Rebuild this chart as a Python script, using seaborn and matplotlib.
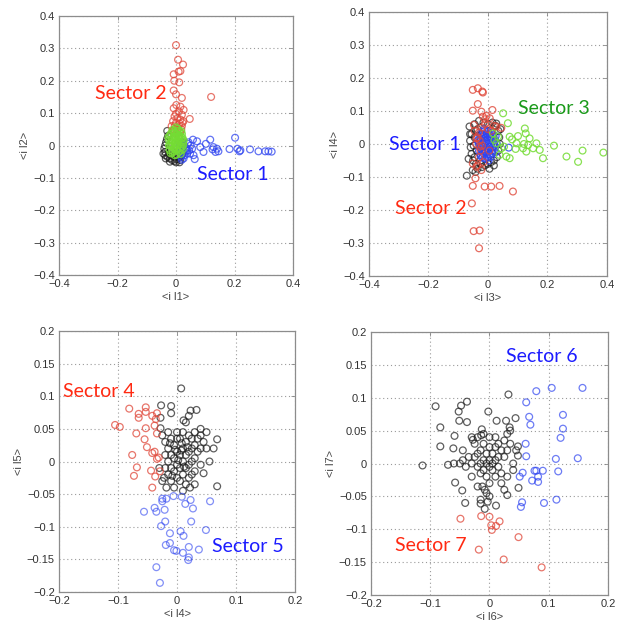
import matplotlib
matplotlib.use("Agg")
import matplotlib.pyplot as plt
import seaborn as sns
import pandas as pd
from matplotlib.ticker import FixedLocator, FuncFormatter

# ---------------- data ----------------
# Panel 1: <i l1> vs <i l2>
P1_BLACK = [(-0.037,-0.03),(-0.029,-0.035),(-0.021,-0.04),(-0.013,-0.045),(-0.005,-0.048),(0.003,-0.042),
            (0.011,-0.038),(0.019,-0.03),(-0.04,-0.01),(-0.037,0.0),(-0.034,0.01),(-0.031,0.02),(-0.037,-0.02),
            (-0.024,-0.025),(-0.015,-0.03),(-0.005,-0.035),(0.005,-0.028),(0.014,-0.02),(0.021,-0.01),(0.024,0.0),
            (0.019,0.01),(-0.027,0.03),(-0.021,-0.05),(0.0,-0.052),(0.008,-0.03),(-0.01,-0.02),(0.022,-0.025),
            (-0.043,-0.025),(0.014,-0.045),(-0.018,-0.012),(-0.03,0.045),(-0.035,-0.04),(0.012,-0.052)]
P1_BLUE = [(0.012,-0.005),(0.018,0.005),(0.022,-0.012),(0.028,0.0),(0.032,-0.02),(0.015,-0.02),(0.025,0.01),
           (0.035,-0.008),(0.04,0.005),(0.045,-0.015),(0.02,-0.028),(0.03,-0.03),(0.05,0.0),(0.01,0.01),
           (0.017,-0.035),(0.038,-0.025),(0.202,0.024),(0.117,0.018),(0.072,0.013),(0.058,0.018),(0.043,0.01),
           (0.128,-0.005),(0.14,-0.01),(0.183,-0.011),(0.21,-0.01),(0.217,-0.018),(0.253,-0.012),(0.282,-0.018),
           (0.305,-0.018),(0.316,-0.018),(0.327,-0.019),(0.094,-0.02),(0.064,-0.042),(0.02,-0.044),(0.083,-0.005),
           (0.038,-0.015),(0.055,-0.01),(0.102,0.005),(0.145,-0.018),(0.22,-0.015),(0.125,-0.012),(0.135,-0.02),
           (0.026,-0.04),(0.048,-0.025),(0.06,-0.03)]
P1_RED = [(0.0,0.31),(0.007,0.265),(0.024,0.25),(0.009,0.228),(0.015,0.23),(-0.008,0.22),(0.011,0.195),
          (-0.006,0.2),(-0.008,0.17),(0.0,0.158),(0.02,0.147),(0.12,0.15),(0.001,0.125),(0.015,0.12),
          (-0.008,0.115),(0.01,0.105),(0.0,0.098),(0.02,0.095),(0.047,0.082),(-0.005,0.09),(0.005,0.085),
          (0.015,0.08),(0.025,0.075),(-0.01,0.075),(0.0,0.07),(0.012,0.068),(0.02,0.06),(-0.004,0.062),
          (0.008,0.055),(0.018,0.05),(-0.006,0.05),(0.004,0.045),(0.014,0.04),(0.022,0.07),(0.0,0.035),(0.01,0.03),
          (-0.015,0.06),(0.026,0.11),(-0.012,0.045)]
P1_GREEN = [(-0.024,0.000),(-0.016,0.014),(-0.008,-0.010),(0.0,0.022),(0.008,0.004),(0.016,-0.016),(0.024,0.010),
            (-0.020,0.030),(-0.012,-0.022),(-0.004,0.040),(0.004,0.016),(0.012,0.032),(0.020,-0.004),
            (-0.022,-0.014),(-0.014,0.006),(-0.006,0.026),(0.002,-0.028),(0.010,0.046),(0.018,0.020),(0.025,0.002),
            (-0.018,0.036),(-0.010,-0.018),(-0.002,0.008),(0.006,0.052),(0.014,-0.008),(0.022,0.024),
            (-0.024,0.016),(-0.016,-0.002),(-0.008,0.044),(0.0,-0.014),(0.008,0.028),(0.016,0.010),(0.023,-0.012),
            (-0.020,0.004),(-0.012,0.048),(-0.004,-0.030),(0.004,0.000),(0.012,0.022),(0.020,0.036),
            (-0.014,0.020),(-0.006,-0.004),(0.002,0.034),(0.010,-0.020),(0.018,0.044),
            (-0.008,0.028),(0.0,0.056),(0.008,0.014),(-0.004,0.006),(0.004,-0.012),(0.012,0.030),
            (-0.026,0.026),(0.026,0.016),(-0.018,-0.024),(0.016,-0.026),(0.004,0.044)]

# Panel 2: <i l3> vs <i l4>
P2_BLACK = [(-0.071,-0.096),(-0.051,-0.079),(-0.062,0.053),(-0.055,0.03),(-0.06,0.01),(-0.058,-0.01),
            (-0.055,-0.03),(-0.05,-0.05),(-0.045,0.06),(-0.04,0.04),(-0.045,0.02),(-0.048,-0.005),(-0.045,-0.04),
            (-0.04,-0.06),(-0.035,-0.075),(-0.03,0.07),(-0.035,0.045),(-0.038,-0.02),(-0.025,-0.06),(-0.02,-0.07),
            (-0.01,-0.065),(0.0,-0.06),(0.01,-0.055),(0.02,-0.05),(0.03,-0.04),(0.035,-0.02),(0.04,0.0),
            (0.038,0.02),(0.035,0.04),(0.025,0.055),(0.015,0.065),(0.0,0.06),(-0.015,0.065),(0.028,0.062),
            (0.042,0.045),(-0.065,-0.045),(-0.06,0.03),(0.005,-0.075),(-0.042,-0.085),(0.02,-0.065)]
P2_BLUE = [(-0.03,-0.021),(-0.031,0.002),(-0.029,0.019),(-0.025,-0.034),(-0.026,-0.011),(-0.024,0.012),
           (-0.025,0.031),(-0.02,-0.041),(-0.021,-0.019),(-0.019,0.001),(-0.02,0.022),(-0.018,0.036),
           (-0.015,-0.029),(-0.016,-0.009),(-0.014,0.011),(-0.015,0.029),(-0.01,-0.044),(-0.011,-0.021),
           (-0.009,0.002),(-0.01,0.019),(-0.011,0.04),(-0.005,-0.036),(-0.004,-0.011),(-0.006,0.009),
           (-0.005,0.032),(0.0,-0.041),(0.001,-0.019),(0.0,0.001),(-0.001,0.021),(0.0,0.038),(0.005,-0.031),
           (0.006,-0.009),(0.004,0.011),(0.005,0.029),(0.01,-0.039),(0.011,-0.021),(0.009,0.001),(0.01,0.019),
           (0.011,0.034),(0.015,-0.029),(0.014,-0.011),(0.016,0.009),(0.015,0.027),(0.02,-0.019),(0.021,0.001),
           (0.019,0.021),(0.025,-0.009),(0.024,0.011),(0.03,0.0),(-0.028,-0.005),(-0.012,0.045),(0.002,-0.05),
           (0.07,-0.011),(-0.017,-0.036),(-0.034,0.01),(0.026,-0.025),(0.026,0.024),(-0.007,-0.025),(0.007,0.024)]
P2_RED = [(-0.051,0.164),(-0.034,0.169),(-0.019,0.159),(-0.017,0.156),(-0.034,0.121),(-0.051,0.101),
          (-0.022,0.098),(0.015,0.103),(-0.017,0.083),(0.006,0.078),(-0.047,0.058),(0.045,0.049),(0.028,0.053),
          (-0.039,0.017),(-0.028,-0.008),(-0.051,-0.059),(-0.039,-0.069),(-0.022,-0.079),(-0.042,-0.104),
          (-0.051,-0.127),(-0.011,-0.129),(0.011,-0.129),(0.039,-0.127),(0.084,-0.144),(-0.054,-0.18),
          (-0.048,-0.264),(-0.028,-0.262),(-0.03,-0.316),(-0.035,0.02),(-0.04,0.0),(-0.03,0.035),(-0.02,0.05),
          (-0.01,0.06),(0.0,0.045),(0.012,0.04),(-0.025,-0.02),(-0.03,-0.04),(-0.015,-0.055),(-0.035,-0.065),
          (-0.028,0.01),(0.02,0.055),(-0.01,0.075),(-0.045,0.04),(-0.005,0.085),(0.005,-0.02),(-0.02,-0.005)]
P2_GREEN = [(0.051,0.093),(0.067,0.063),(0.124,0.047),(0.127,0.032),(0.101,0.024),(0.073,0.022),(0.081,0.014),
            (0.14,0.017),(0.121,0.0),(0.135,-0.003),(0.163,0.002),(0.152,-0.013),(0.174,-0.018),(0.093,-0.015),
            (0.185,-0.043),(0.222,-0.005),(0.264,-0.038),(0.303,-0.054),(0.318,-0.02),(0.388,-0.026),
            (0.129,-0.023),(0.045,-0.013),(0.062,-0.038),(0.073,-0.043),(0.039,-0.033),(0.028,0.002),
            (0.034,0.022),(0.017,0.032),(0.054,-0.008),(0.096,0.002),(0.118,-0.013),(0.022,0.012)]

# Panel 3: <i l4> vs <i l5>
P3_BLACK = [(-0.025,0.04),(-0.02,0.03),(-0.02,0.01),(-0.02,-0.01),(-0.022,-0.025),(-0.015,0.045),(-0.015,0.02),
            (-0.015,0.0),(-0.015,-0.02),(-0.01,0.035),(-0.01,0.01),(-0.01,-0.01),(-0.01,-0.03),(-0.005,0.025),
            (-0.005,0.005),(-0.005,-0.015),(-0.005,-0.04),(0.0,0.045),(0.0,0.015),(0.0,-0.005),(0.0,-0.025),
            (0.005,0.035),(0.005,0.01),(0.005,-0.01),(0.005,-0.03),(0.01,0.045),(0.01,0.02),(0.01,0.0),
            (0.01,-0.02),(0.015,0.03),(0.015,0.01),(0.015,-0.01),(0.015,-0.035),(0.02,0.04),(0.02,0.015),
            (0.02,-0.005),(0.02,-0.025),(0.025,0.035),(0.025,0.02),(0.025,0.0),(0.025,-0.02),(0.03,0.045),
            (0.03,0.025),(0.03,0.005),(0.03,-0.015),(0.035,0.035),(0.035,0.015),(0.04,0.04),(0.04,0.02),
            (0.045,0.03),(-0.012,0.028),(-0.003,0.018),(0.008,0.028),(0.012,-0.008),(0.018,0.022),
            (-0.008,-0.022),(0.002,0.002),(0.007,0.017),(-0.018,-0.04),(0.0,0.035),(0.022,-0.04),
            (0.007,0.112),(-0.027,0.086),(-0.01,0.085),(-0.01,0.074),(0.023,0.078),(0.033,0.079),(0.011,0.063),
            (0.04,0.05),(0.068,0.034),(0.062,0.02),(0.055,0.0),(0.068,-0.038),(-0.028,0.051),(-0.028,0.067),
            (0.02,0.07),(0.015,0.06),(0.05,0.045),(0.05,0.02),(-0.03,-0.01),(0.04,-0.005),(0.045,-0.018),
            (-0.025,-0.03),(0.03,-0.035),(0.01,-0.045)]
P3_RED = [(-0.105,0.056),(-0.097,0.053),(-0.081,0.081),(-0.065,0.073),(-0.065,0.067),(-0.053,0.083),
          (-0.053,0.076),(-0.034,0.074),(-0.042,0.07),(-0.036,0.065),(-0.038,0.055),(-0.034,0.043),
          (-0.069,0.043),(-0.053,0.051),(-0.055,0.034),(-0.051,0.022),(-0.076,0.01),(-0.038,0.015),
          (-0.042,0.013),(-0.068,-0.009),(-0.073,-0.022),(-0.044,-0.014),(-0.037,-0.023),(-0.042,-0.04),
          (-0.034,0.004),(-0.029,-0.015),(-0.031,0.006)]
P3_BLUE = [(-0.056,-0.077),(-0.038,-0.071),(-0.035,-0.077),(-0.025,-0.061),(-0.018,-0.057),(-0.021,-0.074),
           (-0.006,-0.053),(0.008,-0.054),(0.014,-0.065),(0.023,-0.059),(0.027,-0.072),(0.056,-0.061),
           (-0.02,-0.092),(-0.027,-0.099),(-0.012,-0.11),(0.006,-0.107),(0.011,-0.114),(0.024,-0.092),
           (0.049,-0.105),(-0.012,-0.125),(-0.019,-0.128),(-0.005,-0.136),(-0.001,-0.137),(0.01,-0.14),
           (0.02,-0.131),(0.037,-0.135),(0.02,-0.147),(0.019,-0.151),(-0.035,-0.162),(-0.029,-0.186),
           (-0.025,-0.057)]

# Panel 4: <i l6> vs <i l7>
P4_BLACK = [(-0.03,0.0),(-0.025,0.01),(-0.02,-0.005),(-0.02,0.015),(-0.015,0.0),(-0.015,0.02),(-0.015,-0.015),
            (-0.01,0.005),(-0.01,-0.01),(-0.01,0.03),(-0.005,0.0),(-0.005,-0.02),(-0.005,0.015),(0.0,0.005),
            (0.0,-0.005),(0.0,0.025),(0.0,-0.03),(0.005,0.0),(0.005,-0.01),(0.005,0.015),(0.01,0.005),
            (0.01,-0.02),(0.01,0.025),(0.015,0.01),(0.015,-0.005),(0.015,0.03),(0.02,0.02),(0.02,-0.015),
            (0.025,0.035),(0.025,0.01),(0.03,0.045),(0.03,0.02),(0.035,0.05),(0.035,0.03),(0.04,0.0),
            (0.04,-0.01),(0.045,0.02),(-0.008,-0.04),(-0.012,-0.035),(-0.005,-0.045),(0.0,-0.05),(-0.02,-0.035),
            (-0.035,0.01),(-0.04,-0.005),(-0.045,0.005),(-0.05,0.0),(-0.03,-0.02),(-0.025,0.03),(-0.03,0.04),
            (-0.02,0.04),(0.02,-0.03),(0.03,-0.02),(-0.06,0.0),(-0.07,-0.002),(-0.045,0.02),(0.0,0.04),
            (0.01,0.04),(-0.01,0.045),(0.025,-0.04),(-0.015,-0.055),
            (-0.113,-0.003),(-0.091,0.087),(-0.083,0.055),(-0.083,0.026),(-0.038,0.094),(-0.048,0.088),
            (-0.052,0.079),(-0.051,0.065),(-0.038,0.063),(-0.059,0.042),(-0.061,0.023),(-0.058,-0.029),
            (-0.046,-0.041),(-0.041,-0.06),(0.032,0.105),(0.044,0.069),(-0.002,0.079),(0.028,0.065),
            (0.012,0.065),(0.034,0.055),(0.048,0.026),(0.048,0.012),(0.049,-0.037),(0.03,-0.048),
            (0.011,-0.064),(-0.003,-0.058),(-0.015,-0.061),(-0.008,-0.069),(-0.013,0.052),(-0.014,0.043),
            (-0.028,0.036)]
P4_BLUE = [(0.079,0.11),(0.105,0.115),(0.157,0.115),(0.062,0.093),(0.067,0.071),(0.069,0.059),(0.124,0.074),
           (0.124,0.053),(0.12,0.039),(0.061,0.03),(0.062,0.011),(0.112,0.007),(0.149,0.008),(0.116,-0.012),
           (0.076,-0.011),(0.079,-0.011),(0.09,-0.011),(0.056,-0.014),(0.051,-0.02),(0.082,-0.02),
           (0.072,-0.026),(0.082,-0.028),(0.055,-0.059),(0.053,-0.066),(0.092,-0.06),(0.113,-0.055)]
P4_RED = [(-0.049,-0.084),(-0.014,-0.08),(0.0,-0.081),(0.003,-0.094),(0.004,-0.101),(0.011,-0.095),
          (0.017,-0.088),(0.049,-0.112),(-0.018,-0.131),(0.024,-0.146),(0.088,-0.158)]

X_LABELS = ["<i l1>", "<i l3>", "<i l4>", "<i l6>"]
Y_LABELS = ["<i l2>", "<i l4>", "<i l5>", "<i l7>"]
TICKS_WIDE_X = [-0.4, -0.2, 0.0, 0.2, 0.4]
TICKS_WIDE_Y = [-0.4, -0.3, -0.2, -0.1, 0.0, 0.1, 0.2, 0.3, 0.4]
TICKS_NARROW_X = [-0.2, -0.1, 0.0, 0.1, 0.2]
TICKS_NARROW_Y = [-0.2, -0.15, -0.1, -0.05, 0.0, 0.05, 0.1, 0.15, 0.2]

# ---------------- styling ----------------
sns.set_style("white")
plt.rcParams['font.family'] = ['Liberation Sans', 'DejaVu Sans']

C_BLACK = "#1a1a1a"
C_RED = "#e0483a"
C_BLUE = "#2f45f0"
C_GREEN = "#74dc34"
T_RED = "#ff2a12"
T_BLUE = "#1c1cff"
T_GREEN = "#1a9a1a"

fig = plt.figure(figsize=(6.18, 6.25), dpi=100)
axes_rects = [
    (0.0955, 0.560, 0.3786, 0.4144),
    (0.5970, 0.5584, 0.3851, 0.4224),
    (0.0955, 0.0528, 0.3819, 0.4176),
    (0.6003, 0.0480, 0.3835, 0.4208),
]
axs = [fig.add_axes(r) for r in axes_rects]


def scatter(ax, pts, color, alpha):
    df = pd.DataFrame(pts, columns=["x", "y"])
    sns.scatterplot(data=df, x="x", y="y", ax=ax, s=24, marker="o",
                    facecolors="none", edgecolor=color, linewidth=0.9, alpha=alpha)


def fmt_tick(v, p):
    if abs(v) < 1e-9:
        return "0"
    return ("%g" % round(v, 3)).replace("-", "\u2212")


def style(ax, xt, yt, xl, yl):
    ax.set_xlim(xt[0], xt[-1])
    ax.set_ylim(yt[0], yt[-1])
    ax.xaxis.set_major_locator(FixedLocator(xt))
    ax.yaxis.set_major_locator(FixedLocator(yt))
    ax.xaxis.set_major_formatter(FuncFormatter(fmt_tick))
    ax.yaxis.set_major_formatter(FuncFormatter(fmt_tick))
    ax.grid(True, color="#9a9a9a", linestyle=(0, (1, 2.5)), linewidth=0.8)
    ax.set_axisbelow(True)
    for s in ax.spines.values():
        s.set_color("#8c8c8c")
        s.set_linewidth(0.9)
    ax.tick_params(direction="in", length=3, width=0.6, color="#888888",
                   labelsize=8, labelcolor="#333333", top=True, right=True, pad=3)
    ax.set_xlabel(xl, fontsize=8, color="#444444", labelpad=2)
    ax.set_ylabel(yl, fontsize=8, color="#444444", labelpad=2)


def sector(ax, x, y, txt, color):
    ax.text(x, y, txt, color=color, fontsize=14, ha="center", va="center",
            family=["Lato", "DejaVu Sans"])


# Panel 1
ax = axs[0]
scatter(ax, P1_BLACK, C_BLACK, 0.7)
scatter(ax, P1_BLUE, C_BLUE, 0.75)
scatter(ax, P1_RED, C_RED, 0.75)
scatter(ax, P1_GREEN, C_GREEN, 0.9)
style(ax, TICKS_WIDE_X, TICKS_WIDE_Y, X_LABELS[0], Y_LABELS[0])
sector(ax, -0.154, 0.162, "Sector 2", T_RED)
sector(ax, 0.195, -0.091, "Sector 1", T_BLUE)

# Panel 2
ax = axs[1]
scatter(ax, P2_BLACK, C_BLACK, 0.7)
scatter(ax, P2_BLUE, C_BLUE, 0.85)
scatter(ax, P2_RED, C_RED, 0.8)
scatter(ax, P2_GREEN, C_GREEN, 0.85)
style(ax, TICKS_WIDE_X, TICKS_WIDE_Y, X_LABELS[1], Y_LABELS[1])
sector(ax, 0.222, 0.109, "Sector 3", T_GREEN)
sector(ax, -0.212, -0.003, "Sector 1", T_BLUE)
sector(ax, -0.192, -0.194, "Sector 2", T_RED)

# Panel 3
ax = axs[2]
scatter(ax, P3_BLACK, C_BLACK, 0.7)
scatter(ax, P3_RED, C_RED, 0.75)
scatter(ax, P3_BLUE, C_BLUE, 0.6)
style(ax, TICKS_NARROW_X, TICKS_NARROW_Y, X_LABELS[2], Y_LABELS[2])
sector(ax, -0.132, 0.108, "Sector 4", T_RED)
sector(ax, 0.12, -0.13, "Sector 5", T_BLUE)

# Panel 4
ax = axs[3]
scatter(ax, P4_BLACK, C_BLACK, 0.7)
scatter(ax, P4_BLUE, C_BLUE, 0.7)
scatter(ax, P4_RED, C_RED, 0.75)
style(ax, TICKS_NARROW_X, TICKS_NARROW_Y, X_LABELS[3], Y_LABELS[3])
sector(ax, 0.089, 0.163, "Sector 6", T_BLUE)
sector(ax, -0.099, -0.125, "Sector 7", T_RED)

fig.savefig("out.png", dpi=100)
